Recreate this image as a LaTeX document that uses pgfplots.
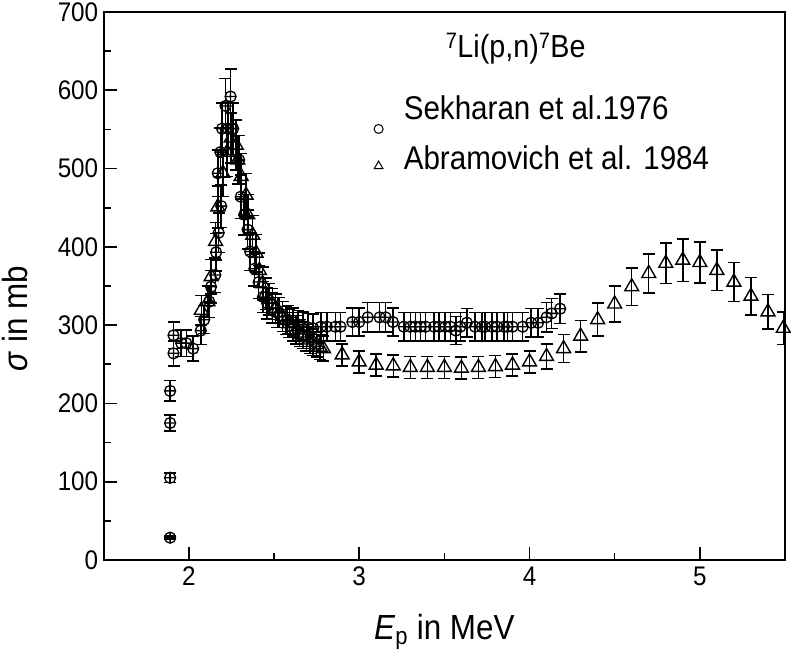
\documentclass[border=0pt]{standalone}
\usepackage{fontspec}
\setmainfont{Liberation Sans}[FakeStretch=0.9]
\usepackage{pgfplots}
\usepackage{pgfplotstable}
\pgfplotsset{compat=1.18}

\pgfplotstableread{
x y e
1.89 28.5 2
1.89 105 6
1.89 175 10
1.89 216 13
1.91 264 16
1.91 287 17
1.955 277 17
1.985 277 17
2.025 270 16
2.07 293 18
2.09 307 18
2.12 330 20
2.13 349 21
2.155 364 22
2.16 393 24
2.175 418 25
2.19 452 27
2.17 494 30
2.185 521 31
2.195 551 33
2.215 580 35
2.245 592 35
2.23 551 33
2.26 551 33
2.295 511 31
2.305 464 28
2.325 441 26
2.345 422 25
2.36 394 24
2.385 372 22
2.41 355 21
2.435 336 20
2.46 328 20
2.49 322 19
2.52 316 19
2.55 311 19
2.58 307 18
2.61 304 18
2.64 301 18
2.67 299 18
2.70 297 18
2.73 296 18
2.775 298 18
2.81 298 18
2.86 298 18
2.89 298 18
2.96 304 18
3.00 304 18
3.05 310 19
3.12 310 19
3.155 310 19
3.198 304 18
3.262 298 18
3.30 298 18
3.33 298 18
3.36 298 18
3.39 298 18
3.44 298 18
3.47 298 18
3.505 298 18
3.535 298 18
3.568 293 18
3.594 298 18
3.632 303 18
3.68 298 18
3.72 298 18
3.74 298 18
3.78 298 18
3.81 298 18
3.85 298 18
3.87 298 18
3.90 298 18
3.96 298 18
4.01 303 18
4.05 303 18
4.10 310 19
4.13 315 19
4.18 321 19
}\sekharan

\pgfplotstableread{
x y e
2.073 319 19
2.112 330 20
2.131 362 22
2.157 407 24
2.17 451 27
2.2 494 30
2.225 521 31
2.248 539 32
2.278 530 32
2.287 511 31
2.307 490 29
2.336 466 28
2.346 441 26
2.375 415 25
2.395 392 24
2.414 370 22
2.433 353 21
2.45 340 20
2.47 333 20
2.49 327 20
2.51 321 19
2.53 316 19
2.55 311 19
2.57 306 18
2.59 302 18
2.61 298 18
2.63 294 18
2.65 290 17
2.67 287 17
2.69 284 17
2.71 281 17
2.73 278 17
2.75 275 16
2.77 272 16
2.79 270 16
2.9 262 14
3.0 253 14
3.1 249 14
3.2 248 14
3.3 246 14
3.4 246 14
3.5 246 14
3.6 245 14
3.7 246 14
3.8 247 14
3.9 249 14
4.0 253 14
4.1 260 16
4.2 270 18
4.3 286 20
4.4 307 21
4.5 327 23
4.6 349 24
4.7 366 25
4.8 379 26
4.9 383 27
5.0 380 26
5.1 370 26
5.2 355 25
5.3 337 24
5.4 317 22
5.49 296 21
}\abramovich

\begin{document}
\begin{tikzpicture}
\begin{axis}[
  scale only axis, width=681.3bp, height=548bp,
  xmin=1.5, xmax=5.5, ymin=0, ymax=700,
  xtick={2,3,4,5}, minor xtick={2.5,3.5,4.5},
  ytick={0,100,...,700}, minor ytick={50,150,...,650},
  tick align=inside, tick pos=left,
  major tick length=13bp, minor tick length=7bp,
  every tick/.style={black, line width=1.6bp},
  axis line style={line width=2.2bp},
  /pgf/number format/assume math mode=true,
  ticklabel style={font=\fontsize{27}{30}\selectfont},
  xticklabel style={yshift=-3bp},
  yticklabel style={xshift=-2bp},
  clip mode=individual,
  xlabel={\textit{E}\textsubscript{p} in MeV},
  ylabel={\textit{σ} in mb},
  label style={font=\fontsize{35}{40}\selectfont},
  xlabel style={at={(axis description cs:0.5,0)}, anchor=base, yshift=-80bp},
  ylabel style={at={(axis description cs:-0.13,0.44)}, anchor=center},
  legend style={at={(axis description cs:0.39,0.852)}, anchor=north west,
    draw=none, fill=none, font=\fontsize{33}{37}\selectfont, row sep=14bp,
    inner sep=0pt},
  legend cell align=left,
  legend image code/.code={\path (0cm,0cm) (1.1cm,0cm);
    \draw[overlay, #1] plot coordinates {(0.30cm,0cm)};},
]
\addplot[forget plot, only marks, mark=oplus, mark size=5.5bp,
  mark options={fill=white, line width=1.3bp},
  error bars/.cd, y dir=both, y explicit,
  error bar style={line width=1.5bp},
  error mark options={rotate=90, line width=1.5bp, mark size=6bp}]
  table[x=x, y=y, y error=e] {\sekharan};
\addplot[forget plot, only marks, mark=triangle, mark size=8bp,
  mark options={fill=white, line width=1.4bp},
  error bars/.cd, y dir=both, y explicit,
  error bar style={line width=1.5bp},
  error mark options={rotate=90, line width=1.5bp, mark size=6bp}]
  table[x=x, y=y, y error=e] {\abramovich};
\addlegendimage{only marks, mark=o, mark size=4.5bp, line width=1bp, yshift=-21bp}
\addlegendentry{Sekharan et al.1976}
\addlegendimage{only marks, mark=triangle, mark size=5bp, line width=1bp, yshift=-8bp}
\addlegendentry{Abramovich et al. 1984}
\node[anchor=base west, font=\fontsize{32}{36}\selectfont]
  at (axis description cs:0.497,0.917) {\textsuperscript{7}Li(p,n)\textsuperscript{7}Be};
\coordinate (sw) at (rel axis cs:0,0);
\coordinate (ne) at (rel axis cs:1,1);
\end{axis}
\pgfresetboundingbox
\path ([shift={(-103.7bp,-96bp)}]sw) rectangle ([shift={(6bp,12bp)}]ne);
\end{tikzpicture}
\end{document}
